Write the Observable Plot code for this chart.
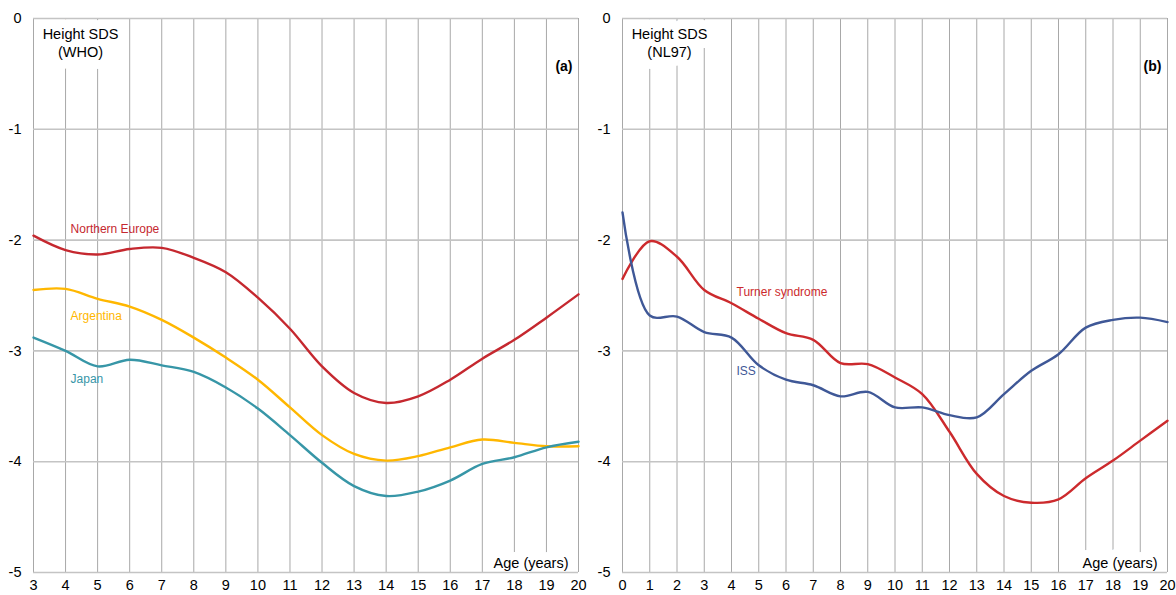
<!DOCTYPE html>
<html>
<head>
<meta charset="utf-8">
<script src="https://cdn.jsdelivr.net/npm/d3@7"></script>
<script src="https://cdn.jsdelivr.net/npm/@observablehq/plot@0.6"></script>
<style>
  html, body { margin: 0; padding: 0; background: #fff; }
  #wrap { display: flex; width: 1176px; height: 595px; }
  svg { font-family: "Liberation Sans", Arial, sans-serif; }
</style>
</head>
<body>
<div id="wrap"></div>
<script>
// ---- Panel (a): Height SDS (WHO) ----
const agesA = [3,4,5,6,7,8,9,10,11,12,13,14,15,16,17,18,19,20];
const northernEurope = [-1.96,-2.09,-2.13,-2.08,-2.07,-2.16,-2.29,-2.52,-2.80,-3.14,-3.38,-3.47,-3.41,-3.26,-3.07,-2.90,-2.70,-2.49];
const argentina = [-2.45,-2.44,-2.53,-2.60,-2.72,-2.88,-3.06,-3.26,-3.51,-3.76,-3.93,-3.99,-3.95,-3.87,-3.80,-3.83,-3.86,-3.86];
const japan = [-2.88,-3.00,-3.14,-3.08,-3.13,-3.19,-3.33,-3.52,-3.76,-4.01,-4.22,-4.31,-4.27,-4.17,-4.02,-3.96,-3.87,-3.82];

// ---- Panel (b): Height SDS (NL97) ----
const agesB = [0,1,2,3,4,5,6,7,8,9,10,11,12,13,14,15,16,17,18,19,20];
const turner = [-2.35,-2.01,-2.15,-2.45,-2.57,-2.71,-2.84,-2.90,-3.11,-3.12,-3.24,-3.39,-3.73,-4.11,-4.31,-4.37,-4.34,-4.15,-3.99,-3.81,-3.63];
const iss = [-1.75,-2.68,-2.69,-2.83,-2.88,-3.13,-3.26,-3.31,-3.41,-3.37,-3.51,-3.51,-3.58,-3.60,-3.39,-3.18,-3.03,-2.79,-2.72,-2.70,-2.74];

const yTicks = [0,-1,-2,-3,-4,-5];

const seriesA = [
  {name: "Northern Europe", values: northernEurope, color: "#c5282f"},
  {name: "Argentina", values: argentina, color: "#ffb700"},
  {name: "Japan", values: japan, color: "#3796a7"}
];
const seriesB = [
  {name: "Turner syndrome", values: turner, color: "#cc2a2d"},
  {name: "ISS", values: iss, color: "#3f5897"}
];

function toRows(ages, series) {
  const rows = [];
  for (const s of series) ages.forEach((a, i) => rows.push({series: s.name, age: a, v: s.values[i], color: s.color}));
  return rows;
}

function panel({ages, series, title, tag, width, marginLeft, marginRight, labelAge, labelOffsets}) {
  const rows = toRows(ages, series);
  const labelRows = rows.filter(r => r.age === labelAge);
  const titleOpts = {frameAnchor: "top-left", dx: 47, dy: 8, text: d => d, textAnchor: "middle", lineAnchor: "top", lineHeight: 1.24, fontSize: 14.5};
  const ageOpts = {frameAnchor: "bottom-right", dx: -10, dy: -5, text: d => d, textAnchor: "end", lineAnchor: "bottom", fontSize: 14.5};
  return Plot.plot({
    width, height: 595,
    marginLeft, marginRight, marginTop: 18, marginBottom: 23,
    style: {fontFamily: "Liberation Sans, Arial, sans-serif", fontSize: "14.5px", color: "#000", background: "#fff"},
    x: {domain: [ages[0], ages[ages.length - 1]], ticks: ages, tickSize: 0, tickPadding: 7, label: null, tickFormat: d => String(d)},
    y: {domain: [-5, 0], ticks: yTicks, tickSize: 0, tickPadding: 12, label: null, tickFormat: d => String(d)},
    marks: [
      Plot.ruleX(ages, {stroke: "#a8a8a8", strokeWidth: 1}),
      Plot.text([title], {...titleOpts, fill: "#fff", stroke: "#fff", strokeWidth: 18, strokeLinejoin: "round"}),
      Plot.text(["Age (years)"], {...ageOpts, fill: "#fff", stroke: "#fff", strokeWidth: 16, strokeLinejoin: "round"}),
      Plot.ruleY(yTicks, {stroke: "#c4c4c4", strokeWidth: 1.6}),
      Plot.text([title], {...titleOpts, fill: "#000"}),
      Plot.text(["Age (years)"], {...ageOpts, fill: "#000"}),
      Plot.text([tag], {frameAnchor: "top-right", dx: -6, dy: 43, text: d => d, textAnchor: "end", lineAnchor: "top", fontSize: 14, fontWeight: "bold", fill: "#000"}),
      Plot.line(rows, {x: "age", y: "v", z: "series", stroke: "color", strokeWidth: 2.4, curve: "catmull-rom"}),
      ...labelRows.map(r => Plot.text([r], {x: "age", y: "v", text: "series", fill: "color", textAnchor: "start", fontSize: 12, dx: 5, dy: labelOffsets[r.series]}))
    ]
  });
}

const wrap = document.getElementById("wrap");
wrap.appendChild(panel({
  ages: agesA, series: seriesA, title: "Height SDS\n(WHO)", tag: "(a)",
  width: 590, marginLeft: 33, marginRight: 12, labelAge: 4,
  labelOffsets: {"Northern Europe": -21, "Argentina": 27, "Japan": 28}
}));
wrap.appendChild(panel({
  ages: agesB, series: seriesB, title: "Height SDS\n(NL97)", tag: "(b)",
  width: 586, marginLeft: 32, marginRight: 9, labelAge: 4,
  labelOffsets: {"Turner syndrome": -11, "ISS": 34}
}));
</script>
</body>
</html>
